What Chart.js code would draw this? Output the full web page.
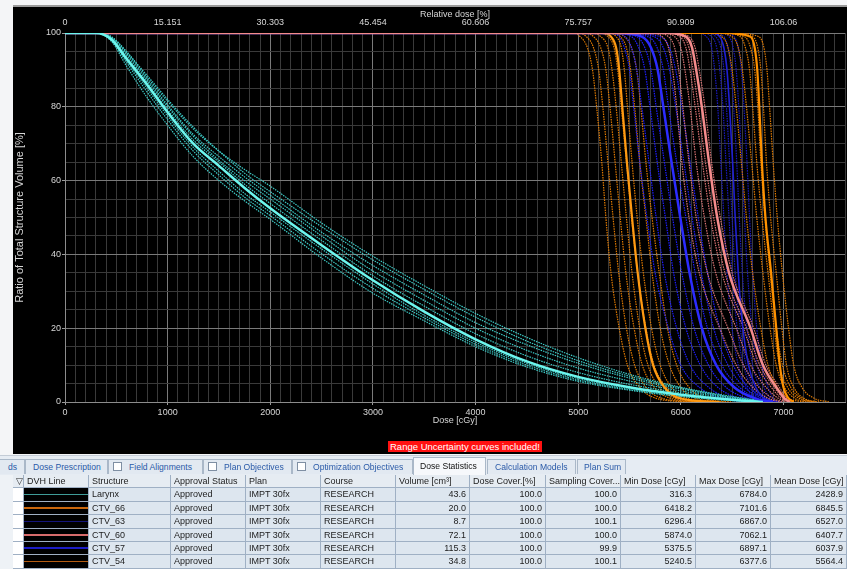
<!DOCTYPE html>
<html>
<head>
<meta charset="utf-8">
<script src="https://cdn.jsdelivr.net/npm/chart.js@4.4.1/dist/chart.umd.min.js"></script>
<style>
  html, body { margin:0; padding:0; }
  body { width:847px; height:569px; overflow:hidden; position:relative; background:#f4f5f7;
         font-family:"Liberation Sans", Arial, sans-serif; }
  #topline { position:absolute; left:13px; top:5px; width:834px; height:2px; background:#9a9a9a; }
  #panel { position:absolute; left:13px; top:7px; width:834px; height:447px; background:#000; }
  #chartbox { position:absolute; left:0; top:0; width:834px; height:447px; }
  #warn { position:absolute; left:388px; top:441px; height:11px; line-height:11px; padding:0 2px;
          background:#ff1111; color:#fff; font-size:9.5px; white-space:nowrap; }
  #tabbar { position:absolute; left:0; top:455px; width:847px; height:20px; background:#e6ecf3;
            border-top:1px solid #c4ccd6; }
  .tab { position:absolute; top:3px; height:15px; line-height:15px; font-size:8.6px; color:#2a5aa8;
         border:1px solid #aab8c8; border-bottom:none; background:#e2e9f1; box-sizing:border-box;
         white-space:nowrap; overflow:hidden; }
  .tab.active { background:#f6f8fb; color:#111; top:1px; height:18px; line-height:17px; }
  .cb { display:inline-block; width:7px; height:7px; border:1px solid #7f8fa3; background:#fff;
        vertical-align:-1px; margin:0 7px 0 4px; }
  #grid { position:absolute; left:0; top:475px; width:847px; display:grid;
          grid-template-columns:13px 11px 65px 82px 75px 75px 75px 74px 76px 75px 75px 75px 76px;
          grid-auto-rows:13.4px; font-size:9px; color:#1c1c1c; }
  #grid div { box-sizing:border-box; border-right:1px solid #9fb0c4; border-bottom:1px solid #9fb0c4;
              background:#dde6ef; padding:0 3px; line-height:12.4px; white-space:nowrap; overflow:hidden; }
  #grid div.h { background:#e6ecf2; }
  #grid div.gap { background:#eef2f6; border:none; }
  #grid div.chk { background:#fff; }
  #grid div.num { text-align:right; }
  #grid div.dvh { background:#000; position:relative; padding:0; }
  #grid div.dvh span { position:absolute; left:0; right:0; top:5.5px; height:1.5px; }
</style>
</head>
<body>
<div id="topline"></div>
<div id="panel">
  <div id="chartbox"><canvas id="dvh"></canvas></div>
</div>
<div id="warn">Range Uncertainty curves included!</div>

<div id="tabbar">
  <div class="tab" style="left:-2px;width:27px;padding-left:9px">ds</div>
  <div class="tab" style="left:25px;width:83px;padding-left:7px">Dose Prescription</div>
  <div class="tab" style="left:108px;width:95px"><span class="cb"></span>Field Alignments</div>
  <div class="tab" style="left:203px;width:89px"><span class="cb"></span>Plan Objectives</div>
  <div class="tab" style="left:292px;width:121px"><span class="cb"></span>Optimization Objectives</div>
  <div class="tab active" style="left:413px;width:73px;padding-left:6px">Dose Statistics</div>
  <div class="tab" style="left:487px;width:89px;padding-left:7px">Calculation Models</div>
  <div class="tab" style="left:577px;width:49px;padding-left:6px">Plan Sum</div>
</div>

<div id="grid"></div>

<script>
// ---- chart data ----
const relDoseTickDoses = [0, 1000, 2000, 3000, 4000, 5000, 6000, 7000];
const relDoseLabels = ['0', '15.151', '30.303', '45.454', '60.606', '75.757', '90.909', '106.06'];

// Larynx: volume [%] at these doses [cGy]
const larynxDoses = [0, 300, 450, 600, 800, 1000, 1250, 1500, 1750, 2000, 2500, 3000, 3500, 4000, 4500, 5000, 5500, 6000, 6500, 6800];
const larynxNominal = [100, 100, 98.3, 93, 86, 78.5, 70, 64, 58, 52.5, 42.5, 33, 24.5, 17, 11, 6.8, 4, 2, 0.6, 0];
const larynxScenarios = [
  [100, 100, 99, 95, 88, 81.5, 74, 68, 63, 58.5, 48.5, 39.5, 31.5, 24, 17.5, 12, 7.5, 4, 1.5, 0.3],
  [100, 100, 98.8, 94.5, 87.5, 80.5, 72.5, 66.5, 61, 56, 46, 37, 29, 21.5, 15.5, 10.5, 6.5, 3.5, 1.2, 0.2],
  [100, 100, 98.6, 94, 87, 80, 72, 65.5, 60, 55, 45, 35.5, 27.5, 20, 14, 9.2, 5.7, 3, 1, 0],
  [100, 100, 98.5, 93.5, 86.5, 79.2, 71, 65, 59, 53.8, 43.8, 34.2, 26, 18.5, 12.5, 8, 4.8, 2.5, 0.8, 0],
  [100, 100, 98.2, 92.5, 85, 77.5, 69, 62.5, 56.5, 51.5, 41.5, 32, 23.5, 16.2, 10.5, 6.4, 3.7, 1.8, 0.5, 0],
  [100, 100, 97.8, 91, 82.5, 75, 66.5, 60, 54.5, 49.5, 39, 29.5, 22, 15, 9.5, 5.6, 3.2, 1.5, 0.4, 0],
  [100, 100, 99, 94.8, 88.5, 82, 74.5, 68, 62, 57, 47.5, 38.5, 30.5, 23, 16.5, 11.2, 7, 3.8, 1.3, 0.2],
  [100, 100, 98, 92, 84, 76.5, 68, 61.5, 55.5, 50.5, 40.2, 30.8, 22.8, 15.6, 10, 6, 3.4, 1.6, 0.4, 0]
];

// CTVs: dose [cGy] reached at these volume levels [%]
const ctvVolumes = [100, 99, 96, 90, 80, 65, 50, 35, 20, 10, 4, 1, 0];

const ctv54Nominal = [5240, 5320, 5370, 5400, 5430, 5475, 5525, 5580, 5655, 5730, 5840, 5990, 6378];
const ctv54Scenarios = [
  [4950, 5020, 5090, 5140, 5180, 5230, 5270, 5320, 5400, 5480, 5600, 5760, 6100],
  [5000, 5080, 5150, 5200, 5240, 5290, 5340, 5395, 5470, 5550, 5660, 5820, 6150],
  [5060, 5150, 5220, 5270, 5310, 5360, 5410, 5465, 5545, 5625, 5740, 5900, 6220],
  [5120, 5220, 5290, 5330, 5370, 5420, 5470, 5525, 5600, 5680, 5790, 5950, 6280],
  [5200, 5290, 5350, 5385, 5420, 5470, 5520, 5580, 5660, 5740, 5860, 6020, 6350],
  [5280, 5370, 5420, 5450, 5480, 5525, 5575, 5635, 5715, 5800, 5910, 6060, 6400],
  [5320, 5410, 5470, 5510, 5550, 5600, 5660, 5720, 5800, 5890, 6000, 6150, 6450],
  [5360, 5450, 5520, 5570, 5610, 5660, 5720, 5790, 5870, 5960, 6080, 6230, 6500]
];

const ctv57Nominal = [5375, 5620, 5710, 5775, 5830, 5910, 5995, 6085, 6205, 6345, 6520, 6720, 6897];
const ctv57Scenarios = [
  [5300, 5400, 5450, 5500, 5540, 5600, 5670, 5750, 5880, 6000, 6180, 6400, 6700],
  [5330, 5460, 5520, 5570, 5620, 5690, 5760, 5840, 5960, 6090, 6270, 6480, 6750],
  [5350, 5520, 5590, 5650, 5700, 5770, 5850, 5930, 6050, 6190, 6360, 6570, 6800],
  [5360, 5570, 5650, 5710, 5760, 5840, 5920, 6010, 6130, 6270, 6440, 6650, 6850],
  [5400, 5680, 5770, 5830, 5880, 5960, 6050, 6140, 6260, 6400, 6570, 6760, 6920],
  [5450, 5740, 5830, 5890, 5950, 6030, 6110, 6200, 6320, 6460, 6620, 6800, 6950],
  [5500, 5800, 5890, 5950, 6010, 6090, 6170, 6260, 6380, 6510, 6660, 6830, 6980]
];

const ctv60Nominal = [5874, 6050, 6110, 6150, 6205, 6275, 6355, 6470, 6680, 6800, 6930, 7010, 7062];
const ctv60Scenarios = [
  [5700, 5820, 5880, 5920, 5960, 6010, 6080, 6180, 6380, 6540, 6700, 6850, 6980],
  [5750, 5880, 5940, 5980, 6020, 6080, 6150, 6260, 6460, 6610, 6760, 6900, 7000],
  [5800, 5940, 6000, 6040, 6090, 6150, 6230, 6340, 6540, 6680, 6830, 6950, 7030],
  [5830, 5990, 6050, 6090, 6140, 6210, 6290, 6400, 6610, 6740, 6880, 6980, 7050],
  [5850, 6020, 6080, 6120, 6170, 6240, 6320, 6430, 6640, 6770, 6910, 7000, 7060],
  [5900, 6080, 6140, 6180, 6235, 6300, 6385, 6500, 6710, 6830, 6960, 7030, 7070]
];

const ctv63Nominal = [6296, 6380, 6420, 6450, 6475, 6505, 6530, 6560, 6605, 6660, 6730, 6810, 6867];
const ctv63Scenarios = [
  [6150, 6250, 6300, 6330, 6360, 6390, 6420, 6450, 6500, 6560, 6640, 6740, 6820],
  [6200, 6300, 6350, 6380, 6410, 6440, 6470, 6500, 6550, 6610, 6690, 6780, 6850],
  [6250, 6340, 6390, 6420, 6445, 6475, 6500, 6530, 6580, 6635, 6710, 6800, 6860],
  [6330, 6420, 6460, 6490, 6515, 6545, 6570, 6600, 6645, 6700, 6770, 6840, 6880],
  [6380, 6470, 6510, 6540, 6565, 6595, 6620, 6650, 6695, 6745, 6810, 6870, 6900],
  [6420, 6520, 6560, 6590, 6615, 6645, 6670, 6700, 6740, 6790, 6850, 6900, 6930]
];

const ctv66Nominal = [6418, 6680, 6720, 6745, 6765, 6790, 6825, 6880, 6930, 6965, 7000, 7050, 7101];
const ctv66Scenarios = [
  [6250, 6400, 6460, 6500, 6540, 6590, 6640, 6700, 6780, 6850, 6940, 7050, 7200],
  [6330, 6500, 6560, 6600, 6640, 6690, 6740, 6800, 6870, 6930, 7010, 7110, 7250],
  [6380, 6620, 6680, 6720, 6750, 6780, 6820, 6870, 6930, 6990, 7070, 7180, 7320],
  [6400, 6580, 6630, 6670, 6700, 6740, 6790, 6850, 6910, 6960, 7040, 7150, 7300],
  [6450, 6700, 6750, 6780, 6805, 6835, 6875, 6930, 6985, 7030, 7100, 7200, 7350],
  [6500, 6760, 6810, 6840, 6865, 6900, 6940, 6990, 7050, 7100, 7180, 7300, 7450]
];

// ---- table data ----
const structures = ['Larynx', 'CTV_66', 'CTV_63', 'CTV_60', 'CTV_57', 'CTV_54'];
const approvalStatus = ['Approved', 'Approved', 'Approved', 'Approved', 'Approved', 'Approved'];
const plans = ['IMPT 30fx', 'IMPT 30fx', 'IMPT 30fx', 'IMPT 30fx', 'IMPT 30fx', 'IMPT 30fx'];
const courses = ['RESEARCH', 'RESEARCH', 'RESEARCH', 'RESEARCH', 'RESEARCH', 'RESEARCH'];
const volumes = [43.6, 20.0, 8.7, 72.1, 115.3, 34.8];
const doseCover = [100.0, 100.0, 100.0, 100.0, 100.0, 100.0];
const samplingCover = [100.0, 100.0, 100.1, 100.0, 99.9, 100.1];
const minDose = [316.3, 6418.2, 6296.4, 5874.0, 5375.5, 5240.5];
const maxDose = [6784.0, 7101.6, 6867.0, 7062.1, 6897.1, 6377.6];
const meanDose = [2428.9, 6845.5, 6527.0, 6407.7, 6037.9, 5564.4];
const headers = ['DVH Line', 'Structure', 'Approval Status', 'Plan', 'Course', 'Volume [cm\u00b3]',
  'Dose Cover.[%]', 'Sampling Cover...', 'Min Dose [cGy]', 'Max Dose [cGy]', 'Mean Dose [cGy]'];
const dvhLineColors = ['#3f9c98', '#c8660c', '#14147a', '#d86c6c', '#1c1cc4', '#b45c12'];

// ---- build table ----
const grid = document.getElementById('grid');
function cell(text, cls) {
  const d = document.createElement('div');
  if (cls) d.className = cls;
  d.textContent = text;
  grid.appendChild(d);
  return d;
}
cell('', 'gap');
cell('\u25bd', 'h');
headers.forEach(h => cell(h, 'h'));
structures.forEach((s, i) => {
  cell('', 'gap');
  cell('', 'chk');
  const d = cell('', 'dvh');
  const line = document.createElement('span');
  line.style.background = dvhLineColors[i];
  d.appendChild(line);
  cell(s);
  cell(approvalStatus[i]);
  cell(plans[i]);
  cell(courses[i]);
  cell(volumes[i].toFixed(1), 'num');
  cell(doseCover[i].toFixed(1), 'num');
  cell(samplingCover[i].toFixed(1), 'num');
  cell(minDose[i].toFixed(1), 'num');
  cell(maxDose[i].toFixed(1), 'num');
  cell(meanDose[i].toFixed(1), 'num');
});

// ---- build chart ----
const larynxPts = vols => larynxDoses.map((d, i) => ({x: d, y: vols[i]}));
const ctvPts = doses => [{x: 0, y: 100}].concat(doses.map((d, i) => ({x: d, y: ctvVolumes[i]})));

function curve(points, color, width, dash) {
  return {
    data: points, borderColor: color, borderWidth: width, borderDash: dash || [],
    pointRadius: 0, fill: false, cubicInterpolationMode: 'monotone'
  };
}
const dots = [1.5, 1];

const datasets = [
  curve(larynxPts(larynxNominal), '#6cf6ee', 2.5),
  curve(ctvPts(ctv60Nominal), '#f58c8c', 2.5),
  curve(ctvPts(ctv57Nominal), '#2c2cff', 2.5),
  curve(ctvPts(ctv66Nominal), '#ff9200', 2.2),
  curve(ctvPts(ctv54Nominal), '#ff9a12', 2.2),
  curve(ctvPts(ctv63Nominal), '#2020d4', 1.6)
];
larynxScenarios.forEach(v => datasets.push(curve(larynxPts(v), '#3cc8c4', 1.2, dots)));
ctv66Scenarios.forEach(v => datasets.push(curve(ctvPts(v), '#e07a00', 1.2, dots)));
ctv60Scenarios.forEach(v => datasets.push(curve(ctvPts(v), '#d87272', 1.2, dots)));
ctv63Scenarios.forEach(v => datasets.push(curve(ctvPts(v), '#1a1ac0', 1.2, dots)));
ctv57Scenarios.forEach(v => datasets.push(curve(ctvPts(v), '#1e1eff', 1.2, dots)));
ctv54Scenarios.forEach(v => datasets.push(curve(ctvPts(v), '#e07a00', 1.2, dots)));

const txt = '#d6d6d6';
Chart.defaults.font.family = '"Liberation Sans", Arial, sans-serif';
Chart.defaults.font.size = 9;

new Chart(document.getElementById('dvh'), {
  type: 'line',
  data: { datasets },
  options: {
    responsive: true,
    maintainAspectRatio: false,
    animation: false,
    layout: { padding: { left: 0, right: 2, top: 0, bottom: 0 } },
    plugins: { legend: { display: false }, tooltip: { enabled: false } },
    scales: {
      x: {
        type: 'linear', position: 'bottom', min: 0, max: 7600,
        afterFit: s => { s.height = 52; },
        border: { color: '#8c8c8c' },
        grid: {
          color: c => (c.tick && c.tick.value % 1000 === 0) ? '#7a7a7a' : '#3a3a3a',
          tickColor: c => (c.tick && c.tick.value % 1000 === 0) ? '#9a9a9a' : 'rgba(0,0,0,0)',
          tickLength: 3
        },
        ticks: {
          stepSize: 100, maxTicksLimit: 200, autoSkip: false, maxRotation: 0, padding: 2, color: txt,
          callback: v => (v % 1000 === 0) ? String(v) : ''
        },
        title: { display: true, text: 'Dose [cGy]', color: txt, font: { size: 9 }, padding: { top: 0, bottom: 28 } }
      },
      xTop: {
        type: 'linear', position: 'top', min: 0, max: 7600,
        afterFit: s => { s.height = 26; },
        afterBuildTicks: s => { s.ticks = relDoseTickDoses.map(v => ({ value: v })); },
        grid: { display: false, drawTicks: false },
        border: { display: false },
        ticks: { autoSkip: false, maxRotation: 0, padding: 5, color: txt, callback: (v, i) => relDoseLabels[i] },
        title: { display: true, text: 'Relative dose [%]', color: txt, font: { size: 9 }, padding: { top: 2, bottom: 0 } }
      },
      y: {
        type: 'linear', position: 'left', min: 0, max: 100,
        afterFit: s => { s.width = 52; },
        border: { color: '#8c8c8c' },
        grid: {
          color: c => (c.tick && c.tick.value % 20 === 0) ? '#7a7a7a' : '#3a3a3a',
          tickColor: c => (c.tick && c.tick.value % 20 === 0) ? '#9a9a9a' : 'rgba(0,0,0,0)',
          tickLength: 3
        },
        ticks: {
          stepSize: 5, maxTicksLimit: 50, autoSkip: false, padding: 1, color: txt,
          callback: v => (v % 20 === 0) ? String(v) : ''
        },
        title: { display: true, text: 'Ratio of Total Structure Volume [%]', color: txt, font: { size: 11 }, padding: { top: 0, bottom: 0 } }
      }
    }
  }
});
</script>
</body>
</html>
